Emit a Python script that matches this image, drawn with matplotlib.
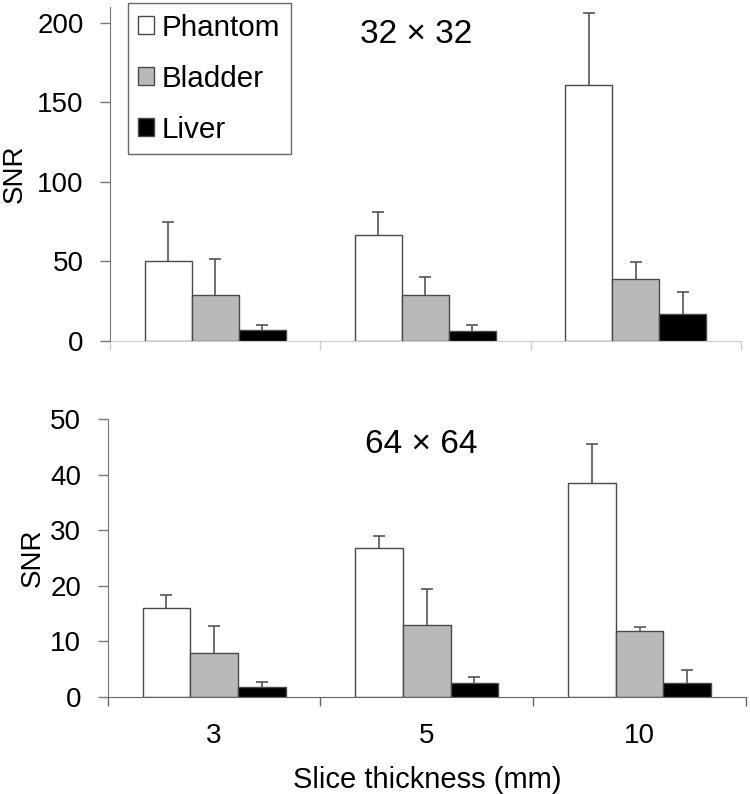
import numpy as np
import matplotlib
matplotlib.use("Agg")
import matplotlib.pyplot as plt

plt.rcParams['font.family'] = ['Liberation Sans', 'DejaVu Sans']

# ---------------- data
thickness = ['3', '5', '10']
series    = ['Phantom', 'Bladder', 'Liver']

# 32 x 32 matrix
snr32 = {'Phantom': [50.2, 66.3, 161.0],
         'Bladder': [28.6, 29.0, 38.7],
         'Liver':   [6.7, 6.3, 17.0]}
err32 = {'Phantom': [24.5, 14.9, 45.0],
         'Bladder': [22.8, 11.3, 10.7],
         'Liver':   [3.2, 3.6, 13.8]}

# 64 x 64 matrix
snr64 = {'Phantom': [15.9, 26.8, 38.4],
         'Bladder': [7.9, 13.0, 11.9],
         'Liver':   [1.8, 2.4, 2.4]}
err64 = {'Phantom': [2.4, 2.2, 7.1],
         'Bladder': [4.9, 6.4, 0.7],
         'Liver':   [0.85, 1.2, 2.35]}

colors = {'Phantom': 'white', 'Bladder': '#b9b9b9', 'Liver': 'black'}

FS = 20
W  = 0.224

fig = plt.figure(figsize=(7.5, 7.94), dpi=100)
ax1 = fig.add_axes([0.1467, 0.5709, 0.841, 0.4203])
ax2 = fig.add_axes([0.1436, 0.1225, 0.851, 0.3497])


def draw_panel(ax, vals, errs, ymax, yticks, xcolor, labels):
    x = np.arange(len(thickness))
    for k, s in enumerate(series):
        xs = x + (k - 1) * W
        ax.bar(xs, vals[s], width=W, color=colors[s], edgecolor='#4a4a4a',
               linewidth=1.0, label=s, zorder=2)
        eb = ax.errorbar(xs, vals[s], yerr=[np.zeros(3), errs[s]], fmt='none',
                         ecolor='#555555', elinewidth=1.2, capsize=4.5,
                         capthick=1.2, zorder=3)
        eb[1][0].set_visible(False)   # no cap at the bar top
    ax.set_xlim(-0.5, 2.5)
    ax.set_ylim(0, ymax)
    ax.set_yticks(yticks)
    ax.set_yticklabels([str(t) for t in yticks])
    # category dividers as major ticks, labels as minor
    ax.set_xticks([-0.5, 0.5, 1.5, 2.5])
    ax.set_xticklabels([])
    ax.set_xticks(x, minor=True)
    if labels:
        ax.set_xticklabels(thickness, minor=True)
    ax.tick_params(axis='x', which='major', direction='out', length=6.5,
                   width=1.0, color=xcolor)
    ax.tick_params(axis='x', which='minor', length=0, labelsize=FS, pad=19)
    ax.tick_params(axis='y', direction='out', length=7, width=1.0,
                   color='#777777', labelsize=FS, pad=12)
    for sp in ['top', 'right']:
        ax.spines[sp].set_visible(False)
    ax.spines['left'].set_color('#777777')
    ax.spines['bottom'].set_color(xcolor)
    ax.spines['left'].set_zorder(4)
    ax.set_ylabel('SNR', fontsize=FS)


draw_panel(ax1, snr32, err32, 210, [0, 50, 100, 150, 200], '#cccccc', False)
draw_panel(ax2, snr64, err64, 50, [0, 10, 20, 30, 40, 50], '#666666', True)

ax1.yaxis.set_label_coords(-0.131, 0.5)
ax2.yaxis.set_label_coords(-0.097, 0.5)

ax2.set_xlabel('Slice thickness (mm)', fontsize=21)
ax2.xaxis.set_label_coords(0.5, -0.2496)

leg = ax1.legend(loc='upper left', bbox_to_anchor=(0.028, 1.012), fontsize=21.3,
                 frameon=True, fancybox=False, edgecolor='#444444',
                 handlelength=0.54, handleheight=0.54, handletextpad=0.25,
                 labelspacing=0.78, borderpad=0.36, borderaxespad=0)
leg.get_frame().set_linewidth(1.0)

fig.text(0.5547, 0.9458, '32 × 32', fontsize=24, ha='center', va='baseline')
fig.text(0.5613, 0.4291, '64 × 64', fontsize=24, ha='center', va='baseline')

plt.savefig('out.png', dpi=100)
